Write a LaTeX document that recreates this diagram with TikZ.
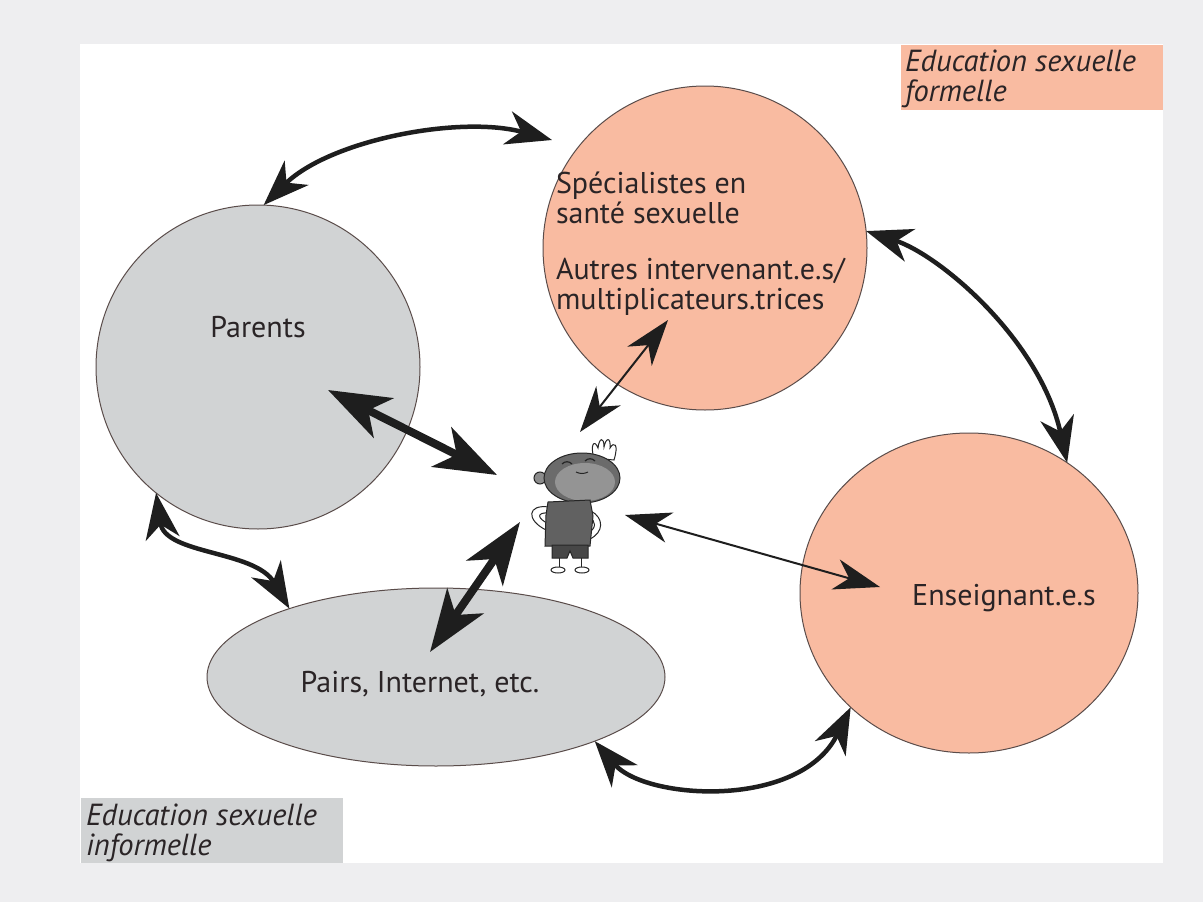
\documentclass[tikz,border=0pt]{standalone}
\usepackage{fontspec}
\setmainfont{PT Sans}
\usetikzlibrary{arrows.meta,shapes.geometric}
\definecolor{bg}{HTML}{EEEEF0}
\definecolor{grayfill}{HTML}{D1D3D4}
\definecolor{salmon}{HTML}{F9BBA1}
\definecolor{txt}{HTML}{2A2426}
\definecolor{edge}{HTML}{5A4C4A}
\definecolor{ink}{HTML}{1E1E1E}
\begin{document}
\begin{tikzpicture}[x=1pt,y=-1pt,
  every node/.style={inner sep=0pt, outer sep=0pt},
  bubblegray/.style={draw=edge, line width=1pt, fill=grayfill},
  bubblesalmon/.style={draw=edge, line width=1pt, fill=salmon},
  lbl/.style={font=\fontsize{30}{28}\selectfont, text=txt, text height=20pt, text depth=6pt},
  ilbl/.style={font=\fontsize{30.5}{28}\selectfont\itshape, text=txt, text height=20pt, text depth=6pt},
  bigarrow/.style={draw=ink, line width=8pt, {Stealth[length=62pt,width=44pt,inset=17pt]}-{Stealth[length=62pt,width=44pt,inset=17pt]}},
  curvarrow/.style={draw=ink, line width=4.5pt, {Stealth[length=46pt,width=34pt,inset=14pt]}-{Stealth[length=46pt,width=34pt,inset=14pt]}},
  finearrow/.style={draw=ink, line width=2pt, {Stealth[length=46pt,width=31pt,inset=14pt]}-{Stealth[length=46pt,width=31pt,inset=14pt]}},
  kid/.style={draw=black!85, line width=1pt},
]
\useasboundingbox (0,0) rectangle (1203,902);
\fill[bg] (0,0) rectangle (1203,902);
\fill[white] (80,44) rectangle (1163,863);

% legend boxes
\node[fill=salmon, minimum width=262pt, minimum height=65pt, anchor=north west] (formbox) at (901,45) {};
\node[fill=grayfill, minimum width=262pt, minimum height=65pt, anchor=north west] (infbox) at (81,798) {};
\node[ilbl, anchor=base west] (form1) at (905,71) {Education sexuelle};
\node[ilbl, anchor=base west] (form2) at (905,101) {formelle};
\node[ilbl, anchor=base west] (inf1) at (86,825) {Education sexuelle};
\node[ilbl, anchor=base west] (inf2) at (86,855) {informelle};

% main bubbles
\node[bubblegray, circle, minimum size=324pt] (parents) at (258,367) {};
\node[bubblesalmon, circle, minimum size=324pt] (spec) at (705,248) {};
\node[bubblesalmon, ellipse, minimum width=338pt, minimum height=320pt] (ens) at (969,593) {};
\node[bubblegray, ellipse, minimum width=458pt, minimum height=178pt] (pairs) at (436,677) {};

% texts
\node[lbl, anchor=base] (tparents) at (258,337) {Parents};
\node[lbl, anchor=base west] (tspec1) at (556,193) {Spécialistes en};
\node[lbl, anchor=base west] (tspec2) at (556,223) {santé sexuelle};
\node[lbl, anchor=base west] (tspec3) at (556,279) {Autres intervenant.e.s/};
\node[lbl, anchor=base west] (tspec4) at (556,309) {multiplicateurs.trices};
\node[lbl, anchor=base] (tens) at (1004,605) {Enseignant.e.s};
\node[lbl, anchor=base] (tpairs) at (420,692) {Pairs, Internet, etc.};

% child
\node[minimum width=90pt, minimum height=140pt] (child) at (578,505) {};
\begin{scope}
  % hair tufts
  \draw[kid, fill=white] (594,458) .. controls (590,446) and (594,438) .. (598,448)
        .. controls (599,438) and (604,436) .. (604,447)
        .. controls (606,437) and (611,437) .. (610,448)
        .. controls (614,441) and (619,444) .. (614,460) -- cycle;
  % ear
  \filldraw[kid, fill=black!45] (540,478) circle (6);
  % head
  \filldraw[kid, fill=black!58] (582,478) ellipse (38 and 25);
  \fill[black!42] (585,482) ellipse (30 and 19);
  % eyes and mouth
  \draw[kid, line width=1.2pt] (562,464) .. controls (565,461) and (569,461) .. (572,464);
  \draw[kid, line width=1.2pt] (585,461) .. controls (588,458) and (592,458) .. (595,461);
  \draw[kid] (576,472) .. controls (580,474) and (584,474) .. (588,472);
  % arms
  \draw[kid, fill=white] (549,507) .. controls (527,504) and (526,520) .. (546,530) -- (549,524) .. controls (536,518) and (537,512) .. (549,513) -- cycle;
  \draw[kid, fill=white] (591,511) .. controls (604,518) and (604,532) .. (590,539) -- (588,533) .. controls (597,528) and (596,521) .. (589,517) -- cycle;
  % shirt
  \filldraw[kid, fill=black!62] (548,502) -- (590,500) -- (593,516) -- (590,546) -- (545,546) -- (546,515) -- cycle;
  % shorts
  \filldraw[kid, fill=black!72] (552,545) -- (588,545) -- (588,558) -- (573,558) -- (570,551) -- (567,558) -- (552,558) -- cycle;
  % legs
  \draw[kid] (559,558) -- (559,567) (581,558) -- (581,567);
  % shoes
  \filldraw[kid, fill=white] (558,570) ellipse (7 and 3);
  \filldraw[kid, fill=white] (582,570) ellipse (7 and 3);
\end{scope}

% free ends
\coordinate (a1e) at (552,140);
\coordinate (a5s) at (328,390);
\coordinate (a5e) at (497,475);
\coordinate (a6s) at (430,652);
\coordinate (a6e) at (520,522);
\coordinate (a7s) at (668,320);
\coordinate (a7e) at (580,432);
\coordinate (a8s) at (625,515);
\coordinate (a8e) at (880,587);

% curved arrows between bubbles
\draw[curvarrow] (parents.88) .. controls (330,140) and (460,115) .. (a1e);
\draw[curvarrow] (spec.6) .. controls (940,255) and (1040,340) .. (ens.53);
\draw[curvarrow] (pairs.-22) .. controls (645,800) and (800,810) .. (ens.224);
\draw[curvarrow] (parents.231) .. controls (165,555) and (255,550) .. (pairs.155);

% arrows to the child
\draw[bigarrow] (a5s) -- (a5e);
\draw[bigarrow] (a6s) -- (a6e);
\draw[finearrow] (a7s) -- (a7e);
\draw[finearrow] (a8s) -- (a8e);
\end{tikzpicture}
\end{document}
